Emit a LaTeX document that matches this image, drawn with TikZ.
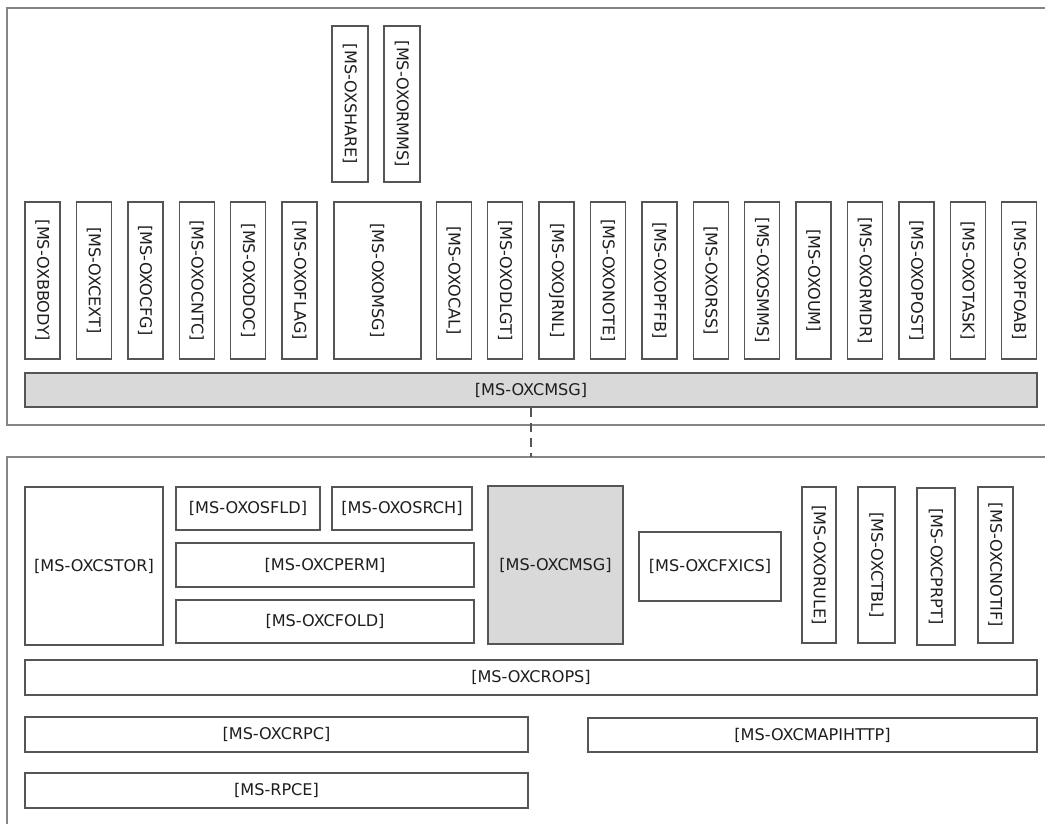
\documentclass[tikz,border=0pt]{standalone}
\usepackage{fontspec}
\setmainfont{DejaVu Sans}
\definecolor{framec}{HTML}{858585}
\definecolor{boxc}{HTML}{555555}
\definecolor{fillg}{HTML}{D9D9D9}
\definecolor{txt}{HTML}{1E1E1E}
\tikzset{
  frameline/.style={draw=framec, line width=2pt},
  box/.style={draw=boxc, line width=1.4pt, fill=white, inner sep=0pt, text=txt,
    font=\fontsize{16.1}{19}\selectfont, anchor=center},
  gbox/.style={box, fill=fillg},
  vbox/.style={box, rotate=-90},
  sz/.style 2 args={minimum width=#1, minimum height=#2},
  link/.style={draw=boxc, line width=1.4pt, dash pattern=on 9pt off 6pt}
}
\begin{document}
\begin{tikzpicture}[x=1pt,y=-1pt]
\clip (0,0) rectangle (1045,823);
\fill[white] (0,0) rectangle (1045,823);
% frames
\draw[frameline] (7,8) rectangle (1070,425);
\draw[frameline] (7,457) rectangle (1070,850);
% top frame: upper boxes
\node[vbox, sz={156}{36}] (oxshare) at (350,104) {[MS-OXSHARE]};
\node[vbox, sz={156}{36}] (oxormms) at (402,104) {[MS-OXORMMS]};
% top frame: row of boxes
\node[vbox, sz={157}{35}] (oxbbody) at (42.5,280.5) {[MS-OXBBODY]};
\node[vbox, sz={157}{35}] (oxcext) at (93.9,280.5) {[MS-OXCEXT]};
\node[vbox, sz={157}{35}] (oxocfg) at (145.3,280.5) {[MS-OXOCFG]};
\node[vbox, sz={157}{35}] (oxocntc) at (196.7,280.5) {[MS-OXOCNTC]};
\node[vbox, sz={157}{35}] (oxodoc) at (248.1,280.5) {[MS-OXODOC]};
\node[vbox, sz={157}{35}] (oxoflag) at (299.5,280.5) {[MS-OXOFLAG]};
\node[vbox, sz={157}{87}] (oxomsg) at (377.3,280.5) {[MS-OXOMSG]};
\node[vbox, sz={157}{35}] (oxocal) at (453.7,280.5) {[MS-OXOCAL]};
\node[vbox, sz={157}{35}] (oxodlgt) at (505.1,280.5) {[MS-OXODLGT]};
\node[vbox, sz={157}{35}] (oxojrnl) at (556.5,280.5) {[MS-OXOJRNL]};
\node[vbox, sz={157}{35}] (oxonote) at (607.9,280.5) {[MS-OXONOTE]};
\node[vbox, sz={157}{35}] (oxopffb) at (659.3,280.5) {[MS-OXOPFFB]};
\node[vbox, sz={157}{35}] (oxorss) at (710.7,280.5) {[MS-OXORSS]};
\node[vbox, sz={157}{35}] (oxosmms) at (762.1,280.5) {[MS-OXOSMMS]};
\node[vbox, sz={157}{35}] (oxoum) at (813.5,280.5) {[MS-OXOUM]};
\node[vbox, sz={157}{35}] (oxormdr) at (864.9,280.5) {[MS-OXORMDR]};
\node[vbox, sz={157}{35}] (oxopost) at (916.3,280.5) {[MS-OXOPOST]};
\node[vbox, sz={157}{35}] (oxotask) at (967.7,280.5) {[MS-OXOTASK]};
\node[vbox, sz={157}{35}] (oxpfoab) at (1019.1,280.5) {[MS-OXPFOAB]};
% top frame: bar
\node[gbox, sz={1012}{34}] (cmsgtop) at (531,390) {[MS-OXCMSG]};
% lower frame
\node[box, sz={138}{158}] (oxcstor) at (94,566) {[MS-OXCSTOR]};
\node[box, sz={144}{43}] (oxosfld) at (248,508.5) {[MS-OXOSFLD]};
\node[box, sz={140}{43}] (oxosrch) at (402,508.5) {[MS-OXOSRCH]};
\node[box, sz={298}{44}] (oxcperm) at (325,565) {[MS-OXCPERM]};
\node[box, sz={298}{43}] (oxcfold) at (325,621.5) {[MS-OXCFOLD]};
\node[gbox, sz={135}{158}] (cmsglow) at (555.5,565) {[MS-OXCMSG]};
\node[box, sz={142}{69}] (oxcfxics) at (710,566.5) {[MS-OXCFXICS]};
\node[vbox, sz={156}{34}] (oxorule) at (819,565) {[MS-OXORULE]};
\node[vbox, sz={156}{37}] (oxctbl) at (876.5,565) {[MS-OXCTBL]};
\node[vbox, sz={157}{38}] (oxcprpt) at (936,566.5) {[MS-OXCPRPT]};
\node[vbox, sz={156}{35}] (oxcnotif) at (995.5,565) {[MS-OXCNOTIF]};
\node[box, sz={1012}{35}] (oxcrops) at (531,677.5) {[MS-OXCROPS]};
\node[box, sz={503}{35}] (oxcrpc) at (276.5,734.5) {[MS-OXCRPC]};
\node[box, sz={449}{34}] (oxcmapihttp) at (812.5,735) {[MS-OXCMAPIHTTP]};
\node[box, sz={503}{35}] (rpce) at (276.5,790.5) {[MS-RPCE]};
% dashed connector
\coordinate (lowtop) at (cmsgtop.south |- 0,457);
\draw[link] (cmsgtop.south) -- (lowtop);
\end{tikzpicture}
\end{document}
